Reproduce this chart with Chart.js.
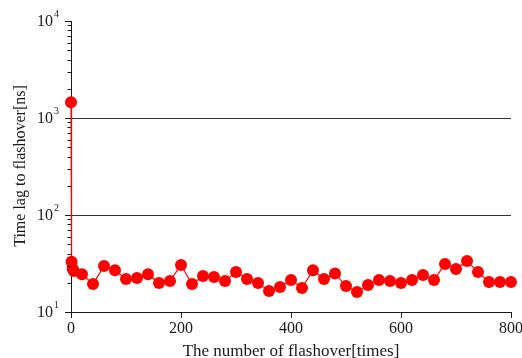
<!DOCTYPE html>
<html>
<head>
<meta charset="utf-8">
<script src="https://cdn.jsdelivr.net/npm/chart.js@4"></script>
<style>
  html, body { margin: 0; padding: 0; background: #fff; }
  #wrap { width: 522px; height: 358px; }
</style>
</head>
<body>
<div id="wrap"><canvas id="lagChart" width="522" height="358"></canvas></div>
<script>
// Flashover count vs. time lag
const shots = [0, 1, 3, 5, 20, 40, 60, 80, 100, 120, 140, 160, 180, 200, 220, 240, 260, 280,
  300, 320, 340, 360, 380, 400, 420, 440, 460, 480, 500, 520, 540, 560, 580, 600, 620,
  640, 660, 680, 700, 720, 740, 760, 780, 800];
const lagNs = [1450, 33, 28, 26.5, 24.5, 19.4, 29.8, 27, 21.9, 22.4, 24.5, 19.9, 20.9, 30.5,
  19.4, 23.5, 22.9, 20.9, 25.8, 21.9, 19.9, 16.5, 18.1, 21.4, 17.7, 27, 21.9, 25, 18.5,
  16.1, 19, 21.4, 20.9, 19.9, 21.4, 24.1, 21.4, 31.3, 27.7, 33.5, 25.8, 20.4, 20.4, 20.4];

const xTicks = [0, 200, 400, 600, 800];
const yMajor = [10, 100, 1000, 10000];
const gridAt = [100, 1000];

const FONT = '"Liberation Serif", "Times New Roman", serif';
const INK = '#1a1a1a';

// tick marks, labels and axis titles
const axisDecor = {
  id: 'axisDecor',
  afterDraw(chart) {
    const { ctx, chartArea: a } = chart;
    const xs = chart.scales.x, ys = chart.scales.y;
    ctx.save();
    ctx.strokeStyle = INK;
    ctx.lineWidth = 1;
    ctx.fillStyle = INK;

    // y ticks: majors long, minors short
    ctx.beginPath();
    for (let e = 1; e <= 4; e++) {
      const base = Math.pow(10, e);
      const py = Math.round(ys.getPixelForValue(base)) + 0.5;
      ctx.moveTo(a.left - 6, py); ctx.lineTo(a.left, py);
      if (e < 4) {
        for (let m = 2; m <= 9; m++) {
          const my = Math.round(ys.getPixelForValue(base * m)) + 0.5;
          ctx.moveTo(a.left - 3.5, my); ctx.lineTo(a.left, my);
        }
      }
    }
    // x ticks
    xTicks.forEach(v => {
      const px = Math.round(xs.getPixelForValue(v)) + 0.5;
      ctx.moveTo(px, a.bottom); ctx.lineTo(px, a.bottom + 6);
    });
    ctx.stroke();

    // y labels 10^n
    ctx.textBaseline = 'middle';
    yMajor.forEach(v => {
      const py = ys.getPixelForValue(v);
      const exp = String(Math.round(Math.log10(v)));
      ctx.font = '10px ' + FONT;
      const ew = ctx.measureText(exp).width;
      ctx.textAlign = 'right';
      ctx.fillText(exp, a.left - 12, py - 7);
      ctx.font = '16px ' + FONT;
      ctx.fillText('10', a.left - 12 - ew - 1, py + 1);
    });

    // x labels
    ctx.font = '16px ' + FONT;
    ctx.textAlign = 'center';
    ctx.textBaseline = 'top';
    xTicks.forEach(v => ctx.fillText(String(v), xs.getPixelForValue(v), a.bottom + 9));

    // axis titles
    ctx.textBaseline = 'alphabetic';
    ctx.font = '17px ' + FONT;
    ctx.fillText('The number of flashover[times]', (a.left + a.right) / 2, 356);
    ctx.font = '16px ' + FONT;
    ctx.translate(25, 166);
    ctx.rotate(-Math.PI / 2);
    ctx.fillText('Time lag to flashover[ns]', 0, 0);
    ctx.restore();
  }
};

new Chart(document.getElementById('lagChart'), {
  type: 'line',
  data: {
    datasets: [{
      data: shots.map((s, i) => ({ x: s, y: lagNs[i] })),
      borderColor: '#ff0000',
      backgroundColor: '#ff0000',
      borderWidth: 1.2,
      pointRadius: 6,
      pointBorderWidth: 0,
      pointHoverRadius: 6,
      tension: 0,
      clip: false
    }]
  },
  options: {
    responsive: false,
    animation: false,
    layout: { padding: { left: 71, top: 21, right: 11, bottom: 46 } },
    plugins: { legend: { display: false }, tooltip: { enabled: false } },
    scales: {
      x: {
        type: 'linear', min: 0, max: 800,
        afterFit: s => { s.height = 0; },
        ticks: { display: false },
        grid: { display: true, drawTicks: false, color: 'transparent' },
        border: { display: true, color: INK, width: 1 }
      },
      y: {
        type: 'logarithmic', min: 10, max: 10000,
        afterFit: s => { s.width = 0; },
        afterBuildTicks: s => { s.ticks = yMajor.map(v => ({ value: v })); },
        ticks: { display: false },
        grid: {
          display: true, drawTicks: false,
          color: c => (c.tick && gridAt.includes(c.tick.value)) ? '#333' : 'transparent'
        },
        border: { display: true, color: INK, width: 1 }
      }
    }
  },
  plugins: [axisDecor]
});
</script>
</body>
</html>
